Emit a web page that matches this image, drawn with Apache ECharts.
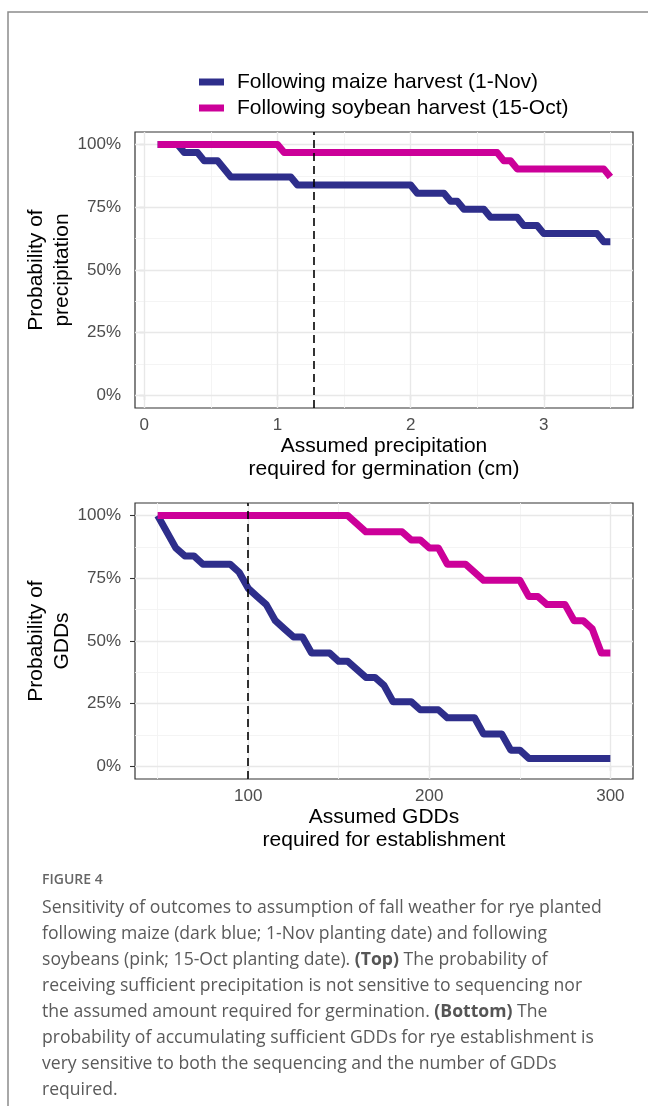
<!DOCTYPE html>
<html>
<head>
<meta charset="utf-8">
<script src="https://cdn.jsdelivr.net/npm/echarts@6/dist/echarts.min.js"></script>
<style>
html,body{margin:0;padding:0;background:#fff;}
#c{width:648px;height:1106px;}
</style>
</head>
<body>
<div id="c"></div>
<script>
// ---- data ----
const seriesNames = ['Following maize harvest (1-Nov)', 'Following soybean harvest (15-Oct)'];

// Top panel: assumed precipitation (cm) vs probability (%)
const precipMaizeX = [0.1,0.25,0.3,0.4,0.45,0.55,0.65,1.1,1.15,2.0,2.05,2.25,2.3,2.35,2.4,2.55,2.6,2.8,2.85,2.95,3.0,3.4,3.45,3.5];
const precipMaizeY = [100,100,96.8,96.8,93.5,93.5,87.1,87.1,83.9,83.9,80.6,80.6,77.4,77.4,74.2,74.2,71.0,71.0,67.7,67.7,64.5,64.5,61.3,61.3];
const precipSoyX = [0.1,1.0,1.05,2.65,2.7,2.75,2.8,3.45,3.5];
const precipSoyY = [100,100,96.8,96.8,93.5,93.5,90.3,90.3,87.1];
const precipThreshold = 1.27;

// Bottom panel: assumed GDDs vs probability (%)
const gddMaizeX = [50,60,65,70,75,90,95,100,105,110,115,120,125,130,135,145,150,155,165,170,175,180,190,195,205,210,225,230,240,245,250,255,300];
const gddMaizeY = [100,87.1,83.9,83.9,80.6,80.6,77.4,71.0,67.7,64.5,58.1,54.8,51.6,51.6,45.2,45.2,41.9,41.9,35.5,35.5,32.3,25.8,25.8,22.6,22.6,19.4,19.4,12.9,12.9,6.5,6.5,3.2,3.2];
const gddSoyX = [50,155,165,185,190,195,200,205,210,220,230,250,255,260,265,275,280,285,290,295,300];
const gddSoyY = [100,100,93.5,93.5,90.3,90.3,87.1,87.1,80.6,80.6,74.2,74.2,67.7,67.7,64.5,64.5,58.1,58.1,54.8,45.2,45.2];
const gddThreshold = 100;

// ticks / breaks
const yTicks = [0,25,50,75,100];
const yMinor = [12.5,37.5,62.5,87.5];
const precipTicks = [0,1,2,3];
const precipMinor = [0.5,1.5,2.5,3.5];
const gddTicks = [100,200,300];
const gddMinor = [50,150,250];

const captionHead = 'FIGURE 4';
const captionLines = [
  'Sensitivity of outcomes to assumption of fall weather for rye planted',
  'following maize (dark blue; 1-Nov planting date) and following',
  'soybeans (pink; 15-Oct planting date). {b|(Top)} The probability of',
  'receiving sufficient precipitation is not sensitive to sequencing nor',
  'the assumed amount required for germination. {b|(Bottom)} The',
  'probability of accumulating sufficient GDDs for rye establishment is',
  'very sensitive to both the sequencing and the number of GDDs',
  'required.'
];

// ---- styling ----
const BLUE = '#2E2E8B';
const PINK = '#CC0099';
const FONT = '"Liberation Sans", Arial, sans-serif';
const CAPFONT = '"Open Sans", sans-serif';
const zip = (xs, ys) => xs.map((x, i) => [x, ys[i]]);

const chart = echarts.init(document.getElementById('c'), null, {renderer: 'canvas'});

function xAxisDef(idx, min, max, ticks, name) {
  return {
    type: 'value', gridIndex: idx, min: min, max: max,
    axisLine: {show: false},
    splitLine: {show: false},
    axisTick: {show: true, length: 5, customValues: ticks, lineStyle: {color: '#333', width: 1.1}},
    axisLabel: {show: true, customValues: ticks, margin: 9, color: '#4d4d4d', fontSize: 17, fontFamily: FONT},
    name: name, nameLocation: 'middle', nameGap: 22,
    nameTextStyle: {color: '#000', fontSize: 21, fontFamily: FONT, lineHeight: 23}
  };
}
function yAxisDef(idx, name) {
  return {
    type: 'value', gridIndex: idx, min: -5, max: 105,
    axisLine: {show: false},
    splitLine: {show: false},
    axisTick: {show: true, length: 5, customValues: yTicks, lineStyle: {color: '#333', width: 1.1}},
    axisLabel: {show: true, customValues: yTicks, margin: 14, color: '#4d4d4d', fontSize: 17, fontFamily: FONT,
      formatter: v => v + '%'},
    name: name, nameLocation: 'middle', nameGap: 60, nameRotate: 90, nameMoveOverlap: false,
    nameTextStyle: {color: '#000', fontSize: 21, fontFamily: FONT, lineHeight: 26}
  };
}
function gridLines(idx, xMajor, xMinor) {
  const minorStyle = {color: '#f3f3f3', width: 0.9, type: 'solid'};
  const majorStyle = {color: '#e8e8e8', width: 1.4, type: 'solid'};
  const d = [];
  xMinor.forEach(v => d.push({xAxis: v, lineStyle: minorStyle}));
  yMinor.forEach(v => d.push({yAxis: v, lineStyle: minorStyle}));
  xMajor.forEach(v => d.push({xAxis: v, lineStyle: majorStyle}));
  yTicks.forEach(v => d.push({yAxis: v, lineStyle: majorStyle}));
  return {
    type: 'line', xAxisIndex: idx, yAxisIndex: idx, data: [], z: 1, silent: true,
    markLine: {z: 1, symbol: ['none', 'none'], silent: true, animation: false, label: {show: false}, data: d}
  };
}
function dataSeries(idx, name, color, xs, ys) {
  return {
    type: 'line', name: name, xAxisIndex: idx, yAxisIndex: idx,
    data: zip(xs, ys), showSymbol: false, symbol: 'none', z: 3,
    color: color, itemStyle: {color: color},
    lineStyle: {color: color, width: 7, join: 'round', cap: 'butt'},
    animation: false
  };
}
function threshold(idx, v) {
  return {
    type: 'line', xAxisIndex: idx, yAxisIndex: idx, data: [], z: 6, silent: true,
    markLine: {z: 8, symbol: ['none', 'none'], silent: true, animation: false, label: {show: false},
      lineStyle: {color: '#000', width: 1.6, type: [8, 5]}, data: [{xAxis: v}]}
  };
}

const option = {
  animation: false,
  backgroundColor: '#fff',
  legend: {
    orient: 'vertical', left: 194, top: 66,
    icon: 'rect', itemWidth: 25, itemHeight: 7, itemGap: 4,
    data: seriesNames,
    textStyle: {color: '#000', fontSize: 21, fontFamily: FONT, lineHeight: 22, padding: [0, 0, 0, 8]}
  },
  grid: [
    {left: 135, top: 132, width: 498, height: 276, show: true, borderColor: '#333', borderWidth: 1.2, backgroundColor: 'transparent', containLabel: false},
    {left: 135, top: 503, width: 498, height: 276, show: true, borderColor: '#333', borderWidth: 1.2, backgroundColor: 'transparent', containLabel: false}
  ],
  xAxis: [
    xAxisDef(0, -0.07, 3.67, precipTicks, 'Assumed precipitation\nrequired for germination (cm)'),
    xAxisDef(1, 37.5, 312.5, gddTicks, 'Assumed GDDs\nrequired for establishment')
  ],
  yAxis: [
    yAxisDef(0, 'Probability of\nprecipitation'),
    yAxisDef(1, 'Probability of\nGDDs')
  ],
  series: [
    gridLines(0, precipTicks, precipMinor),
    gridLines(1, gddTicks, gddMinor),
    dataSeries(0, seriesNames[0], BLUE, precipMaizeX, precipMaizeY),
    dataSeries(0, seriesNames[1], PINK, precipSoyX, precipSoyY),
    dataSeries(1, seriesNames[0], BLUE, gddMaizeX, gddMaizeY),
    dataSeries(1, seriesNames[1], PINK, gddSoyX, gddSoyY),
    threshold(0, precipThreshold),
    threshold(1, gddThreshold)
  ],
  graphic: [
    {type: 'rect', silent: true, z: 0, shape: {x: 8, y: 12, width: 900, height: 1300},
      style: {fill: 'none', stroke: '#8c8c8c', lineWidth: 1.5}},
    {type: 'text', silent: true, left: 42, top: 873,
      style: {text: captionHead, fill: '#666', font: '600 14px ' + CAPFONT}},
    {type: 'text', silent: true, left: 42, top: 895,
      style: {
        text: captionLines.join('\n'),
        fill: '#5a5a5a', fontSize: 17.6, fontFamily: CAPFONT, lineHeight: 26,
        rich: {b: {fontWeight: 'bold', fill: '#555', fontSize: 17.6, fontFamily: CAPFONT, lineHeight: 26}}
      }}
  ]
};
chart.setOption(option);
</script>
</body>
</html>
